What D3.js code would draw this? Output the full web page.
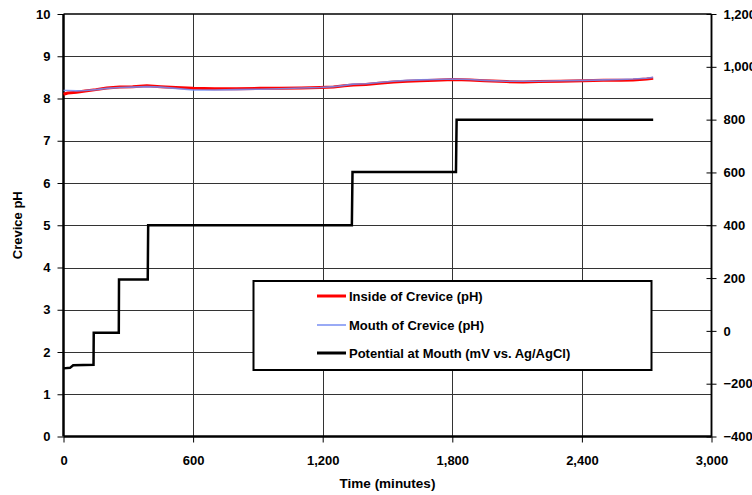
<!DOCTYPE html>
<html><head><meta charset="utf-8">
<script src="https://cdn.jsdelivr.net/npm/d3@7"></script>
<style>body{margin:0;background:#fff}svg{display:block;font-family:"Liberation Sans",Arial,sans-serif;font-weight:bold}</style>
</head><body><svg id="c" width="752" height="495"></svg>
<script>
const xTicks = [0, 600, 1200, 1800, 2400, 3000];
const phTicks = [0,1,2,3,4,5,6,7,8,9,10];
const mvTicks = [-400,-200,0,200,400,600,800,1000,1200];

const phTime = [0,20,60,100,150,200,260,320,386,450,520,600,700,800,910,1000,1100,1188,1250,1300,1341,1400,1460,1528,1590,1650,1720,1806,1880,1950,2050,2128,2200,2300,2406,2500,2580,2637,2700,2730];
const insidePH = [8.10,8.13,8.15,8.18,8.21,8.25,8.27,8.28,8.30,8.28,8.26,8.24,8.23,8.23,8.24,8.24,8.25,8.26,8.27,8.30,8.32,8.33,8.36,8.39,8.41,8.42,8.43,8.45,8.44,8.42,8.40,8.39,8.40,8.41,8.42,8.43,8.43,8.44,8.46,8.48];
const mouthPH = [8.19,8.19,8.18,8.19,8.21,8.24,8.26,8.27,8.28,8.27,8.24,8.20,8.20,8.21,8.22,8.23,8.25,8.26,8.28,8.31,8.34,8.35,8.38,8.41,8.43,8.44,8.45,8.46,8.45,8.43,8.41,8.41,8.41,8.42,8.43,8.44,8.45,8.46,8.48,8.50];

const potTime = [0,30,45,139,140,256,257,390,392,1335,1338,1817,1820,2730];
const potMV = [-142,-140,-130,-128,-7,-7,195,195,400,400,602,602,800,800];

const legendLabels = ["Inside of Crevice (pH)","Mouth of Crevice (pH)","Potential at Mouth (mV vs. Ag/AgCl)"];

const svg = d3.select("#c");
const L=63.5, R=711.5, T=14, B=436.5;
const x = d3.scaleLinear().domain([0,3000]).range([L,R]);
const yL = d3.scaleLinear().domain([0,10]).range([B,T]);
const yR = d3.scaleLinear().domain([-400,1200]).range([B,T]);
const fmt = d3.format(",");

// grid
svg.append("g").selectAll("line").data(phTicks.slice(1,-1)).join("line")
  .attr("x1",L).attr("x2",R).attr("y1",d=>Math.round(yL(d))+0.5).attr("y2",d=>Math.round(yL(d))+0.5)
  .attr("stroke","#333").attr("stroke-width",1);
svg.append("g").selectAll("line").data(xTicks.slice(1,-1)).join("line")
  .attr("y1",T).attr("y2",B).attr("x1",d=>Math.round(x(d))+0.5).attr("x2",d=>Math.round(x(d))+0.5)
  .attr("stroke","#333").attr("stroke-width",1);

// frame
svg.append("line").attr("x1",L).attr("x2",R).attr("y1",T).attr("y2",T).attr("stroke","#000").attr("stroke-width",1.5);
svg.append("line").attr("x1",R).attr("x2",R).attr("y1",T).attr("y2",B).attr("stroke","#000").attr("stroke-width",1.5);

// axes
const axL = svg.append("g").attr("transform",`translate(${L},0)`)
  .call(d3.axisLeft(yL).tickValues(phTicks).tickSize(6).tickPadding(7).tickFormat(d3.format("d")));
const axB = svg.append("g").attr("transform",`translate(0,${B})`)
  .call(d3.axisBottom(x).tickValues(xTicks).tickSize(6).tickPadding(13).tickFormat(fmt));
const axR = svg.append("g").attr("transform",`translate(${R},0)`)
  .call(d3.axisRight(yR).tickValues(mvTicks).tickSize(5).tickPadding(7).tickFormat(fmt));
axR.selectAll(".tick line").attr("x1",-5);
[axL,axB,axR].forEach(a=>{
  a.select(".domain").attr("stroke","#000").attr("stroke-width",a===axR?1.5:2.5);
  a.selectAll(".tick line").attr("stroke","#000").attr("stroke-width",1);
  a.selectAll("text").attr("font-size",13).attr("font-weight","bold").attr("fill","#000").attr("font-family","Liberation Sans, Arial, sans-serif");
});
axL.select(".domain").attr("d",`M0,${B}V${T}`);
axB.select(".domain").attr("d",`M${L},0H${R}`);
axR.select(".domain").attr("d",`M0,${B}V${T}`);

// titles
svg.append("text").attr("transform",`translate(22,${(T+B)/2}) rotate(-90)`).attr("text-anchor","middle")
  .attr("font-size",13).text("Crevice pH");
svg.append("text").attr("x",(L+R)/2).attr("y",488).attr("text-anchor","middle")
  .attr("font-size",13.5).text("Time (minutes)");

// lines
const lineL = d3.line().x(d=>x(d[0])).y(d=>yL(d[1]));
const lineR = d3.line().x(d=>x(d[0])).y(d=>yR(d[1]));
svg.append("path").datum(potTime.map((t,i)=>[t,potMV[i]])).attr("d",lineR)
  .attr("fill","none").attr("stroke","#000").attr("stroke-width",2.5);
svg.append("path").datum(phTime.map((t,i)=>[t,insidePH[i]])).attr("d",lineL)
  .attr("fill","none").attr("stroke","#ff0000").attr("stroke-width",3);
svg.append("path").datum(phTime.map((t,i)=>[t,mouthPH[i]])).attr("d",lineL)
  .attr("fill","none").attr("stroke","#6f8ff7").attr("stroke-width",1.6).attr("opacity",0.85);

// legend
const lg = svg.append("g");
lg.append("rect").attr("x",253.5).attr("y",281).attr("width",398).attr("height",89)
  .attr("fill","#fff").attr("stroke","#000").attr("stroke-width",2);
const lColors = ["#ff0000","#99aaf5","#000"], lWidths=[3,2,3];
const lYs = [296,325,353];
legendLabels.forEach((s,i)=>{
  lg.append("line").attr("x1",317).attr("x2",346).attr("y1",lYs[i]).attr("y2",lYs[i])
    .attr("stroke",lColors[i]).attr("stroke-width",lWidths[i]);
  lg.append("text").attr("x",349).attr("y",lYs[i]).attr("dy","0.35em").attr("font-size",13).text(s);
});
</script></body></html>
